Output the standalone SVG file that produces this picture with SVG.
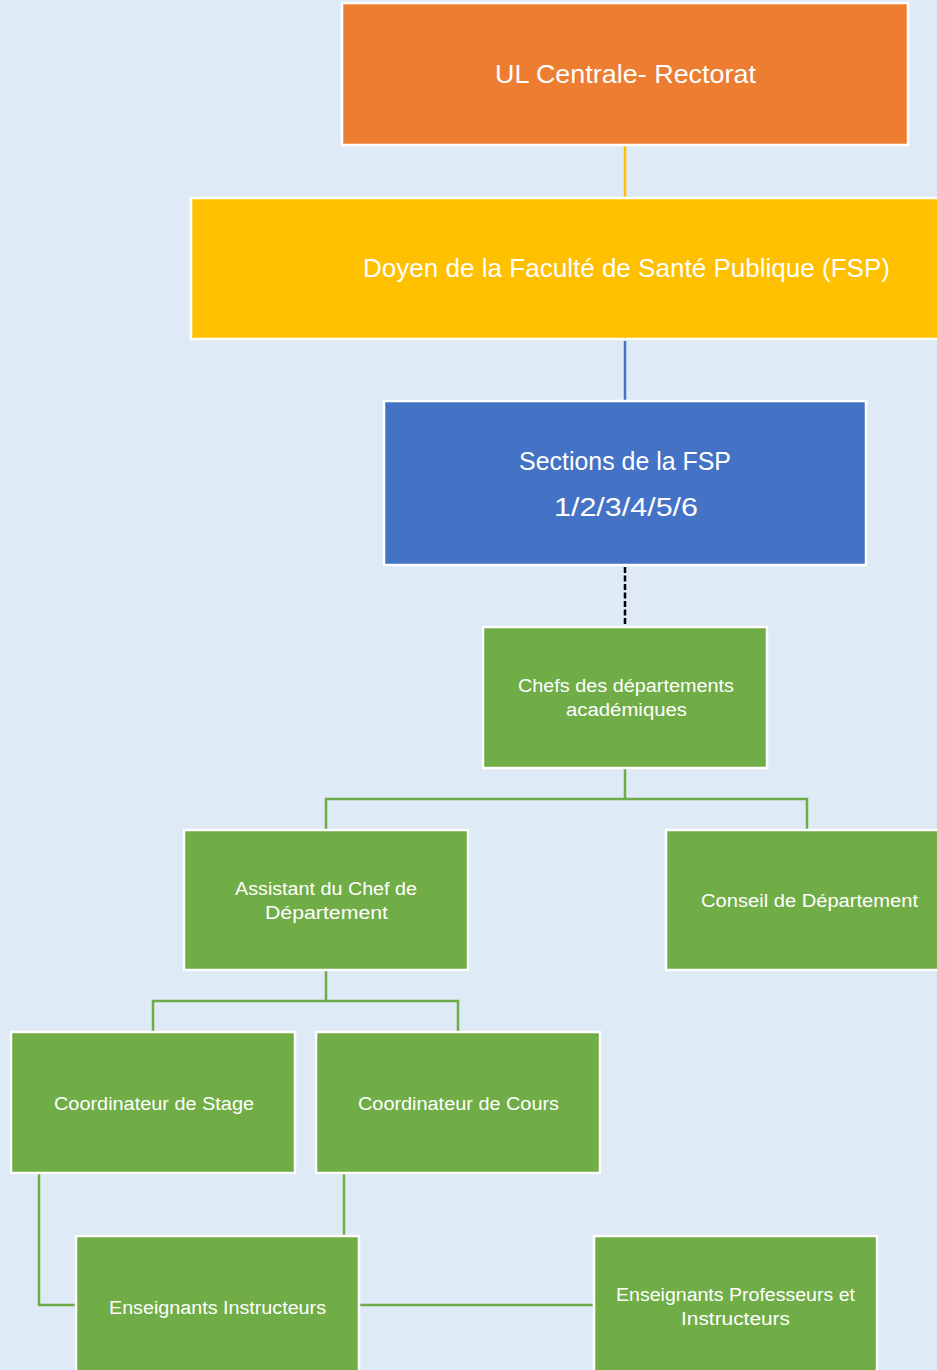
<svg xmlns="http://www.w3.org/2000/svg" width="937" height="1370" viewBox="0 0 937 1370">
<style>
.box{stroke:#ffffff;stroke-width:2.5}
.t{fill:#ffffff;font-family:"Liberation Sans",Arial,sans-serif;text-anchor:middle}
.big{font-size:25px}
.sm{font-size:18px}
.g{fill:none;stroke:#70AD47;stroke-width:2.5}
</style>
<rect x="0" y="0" width="937" height="1370" fill="#DEEAF6"/>
<g id="connectors">
<line x1="625" y1="146" x2="625" y2="197" stroke="#FFC000" stroke-width="2.5"/>
<line x1="625" y1="341" x2="625" y2="400" stroke="#4472C4" stroke-width="2.5"/>
<line x1="625" y1="567" x2="625" y2="626" stroke="#000000" stroke-width="2.5" stroke-dasharray="6 2.5"/>
<path class="g" d="M625 769 V799 H326 V829 M625 799 H807 V829"/>
<path class="g" d="M326 971 V1001 H153 V1031 M326 1001 H458 V1031"/>
<path class="g" d="M39 1174 V1305 H75"/>
<path class="g" d="M344 1174 V1235"/>
<path class="g" d="M360 1305 H593"/>
</g>
<g id="n-rectorat">
<rect class="box" x="342" y="3" width="566" height="142" fill="#ED7D31"/>
<text class="t big" x="625.5" y="83" textLength="261" lengthAdjust="spacingAndGlyphs">UL Centrale- Rectorat</text>
</g>
<g id="n-doyen">
<rect class="box" x="191" y="198" width="760" height="141" fill="#FFC000"/>
<text class="t big" x="626.5" y="277" textLength="527" lengthAdjust="spacingAndGlyphs">Doyen de la Faculté de Santé Publique (FSP)</text>
</g>
<g id="n-sections">
<rect class="box" x="384" y="401" width="482" height="164" fill="#4472C4"/>
<text class="t big" x="625" y="470" textLength="212" lengthAdjust="spacingAndGlyphs">Sections de la FSP</text>
<text class="t big" x="626" y="516" textLength="144" lengthAdjust="spacingAndGlyphs">1/2/3/4/5/6</text>
</g>
<g id="n-chefs">
<rect class="box" x="483" y="627" width="284" height="141" fill="#70AD47"/>
<text class="t sm" x="626" y="692" textLength="216" lengthAdjust="spacingAndGlyphs">Chefs des départements</text>
<text class="t sm" x="626.5" y="716" textLength="121" lengthAdjust="spacingAndGlyphs">académiques</text>
</g>
<g id="n-assistant">
<rect class="box" x="184" y="830" width="284" height="140" fill="#70AD47"/>
<text class="t sm" x="326" y="895" textLength="182" lengthAdjust="spacingAndGlyphs">Assistant du Chef de</text>
<text class="t sm" x="326.5" y="919" textLength="123" lengthAdjust="spacingAndGlyphs">Département</text>
</g>
<g id="n-conseil">
<rect class="box" x="666" y="830" width="300" height="140" fill="#70AD47"/>
<text class="t sm" x="809.5" y="907" textLength="217" lengthAdjust="spacingAndGlyphs">Conseil de Département</text>
</g>
<g id="n-stage">
<rect class="box" x="11" y="1032" width="284" height="141" fill="#70AD47"/>
<text class="t sm" x="154" y="1110" textLength="200" lengthAdjust="spacingAndGlyphs">Coordinateur de Stage</text>
</g>
<g id="n-cours">
<rect class="box" x="316" y="1032" width="284" height="141" fill="#70AD47"/>
<text class="t sm" x="458.5" y="1110" textLength="201" lengthAdjust="spacingAndGlyphs">Coordinateur de Cours</text>
</g>
<g id="n-instructeurs">
<rect class="box" x="76" y="1236" width="283" height="150" fill="#70AD47"/>
<text class="t sm" x="217.5" y="1314" textLength="217" lengthAdjust="spacingAndGlyphs">Enseignants Instructeurs</text>
</g>
<g id="n-professeurs">
<rect class="box" x="594" y="1236" width="283" height="150" fill="#70AD47"/>
<text class="t sm" x="735.5" y="1301" textLength="239" lengthAdjust="spacingAndGlyphs">Enseignants Professeurs et</text>
<text class="t sm" x="735.5" y="1325" textLength="109" lengthAdjust="spacingAndGlyphs">Instructeurs</text>
</g>
</svg>
